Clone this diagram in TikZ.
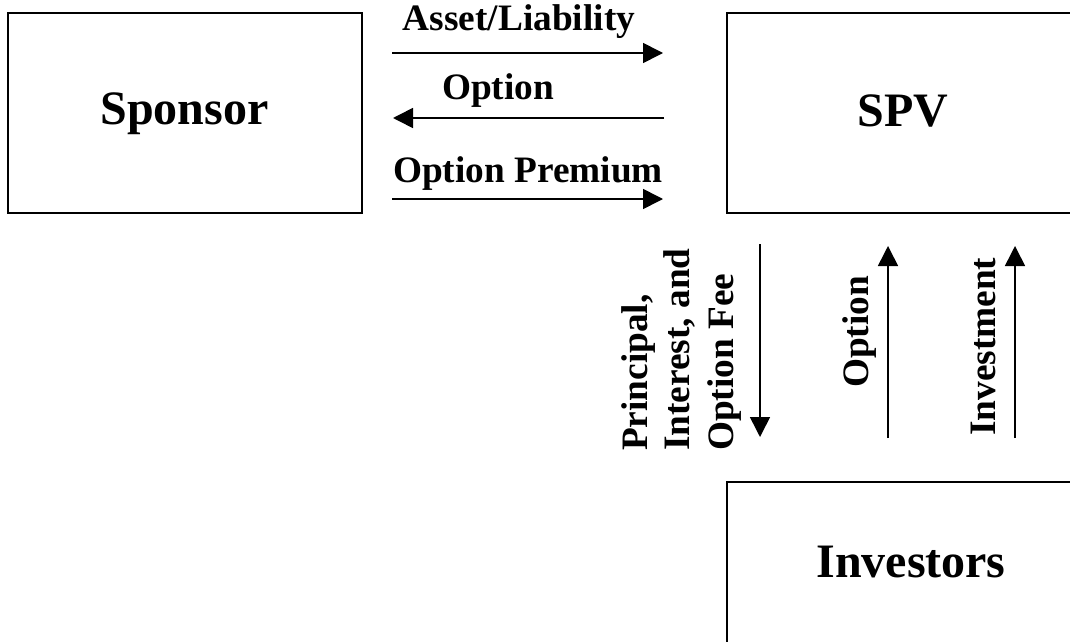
\documentclass[tikz,border=0pt]{standalone}
\usepackage{fontspec}
\setmainfont{Liberation Serif}
\usetikzlibrary{arrows.meta}
\tikzset{
  entity/.style={draw, line width=2pt, rectangle, inner sep=0pt,
    font=\fontsize{48}{56}\selectfont\bfseries},
  flowlbl/.style={inner sep=0pt, font=\fontsize{37.3}{43}\selectfont\bfseries},
  vlbl/.style={flowlbl, rotate=90, anchor=base west},
  flow/.style={line width=1.6pt, -{Triangle[length=20pt,width=20pt]}}
}
\begin{document}
\begin{tikzpicture}[x=1pt,y=-1pt]
\useasboundingbox (0,0) rectangle (1070,642);
\clip (0,0) rectangle (1070,642);
% boxes
\node[entity, minimum width=354pt, minimum height=200pt] (sponsor) at (184.5,113.25) {Sponsor};
\node[entity, minimum width=352pt, minimum height=200pt, text depth=5.5pt] (spv) at (903,113.25) {SPV};
\node[entity, minimum width=368pt, minimum height=300pt, text height=33pt, text depth=143pt] (inv) at (911,632) {Investors};
% horizontal flows
\coordinate (a1) at (392,53);  \coordinate (a2) at (663,53);
\coordinate (b1) at (664,118); \coordinate (b2) at (393,118);
\coordinate (c1) at (392,199); \coordinate (c2) at (663,199);
\draw[flow] (a1) -- (a2);
\draw[flow] (b1) -- (b2);
\draw[flow] (c1) -- (c2);
\node[flowlbl, anchor=base] (lasset) at (519,31) {Asset/Liability};
\node[flowlbl, anchor=base] (lopt) at (498,99) {Option};
\node[flowlbl, anchor=base] (lprem) at (528,182) {Option Premium};
% vertical flows
\coordinate (d1) at (760,244); \coordinate (d2) at (760,437);
\coordinate (e1) at (888,438); \coordinate (e2) at (888,246);
\coordinate (f1) at (1015,438); \coordinate (f2) at (1015,246);
\draw[flow] (d1) -- (d2);
\draw[flow] (e1) -- (e2);
\draw[flow] (f1) -- (f2);
\node[vlbl] (lp1) at (647,451) {Principal,};
\node[vlbl] (lp2) at (689,451) {Interest, and};
\node[vlbl] (lp3) at (733,451) {Option Fee};
\node[vlbl] (lvopt) at (868,388) {Option};
\node[vlbl] (linv) at (995,436) {Investment};
\end{tikzpicture}
\end{document}
